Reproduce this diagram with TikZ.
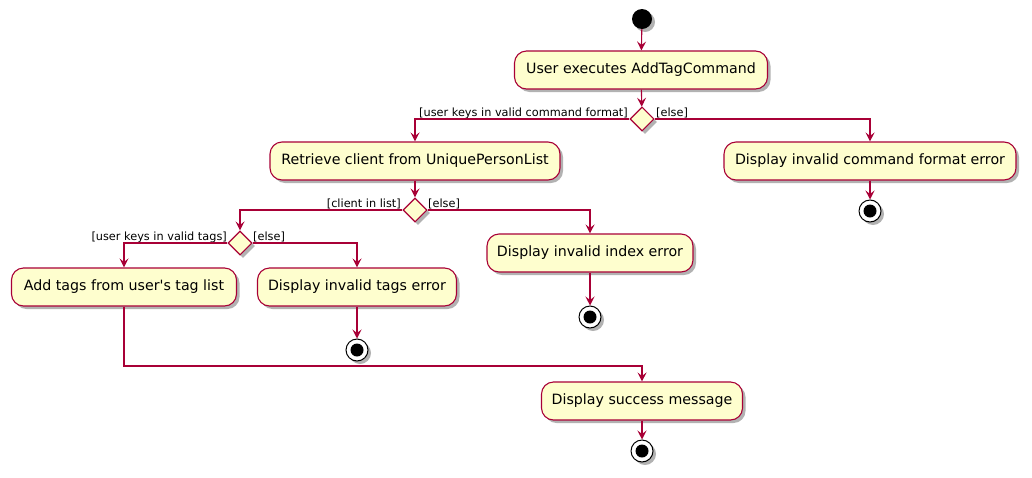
\documentclass[tikz,border=0pt]{standalone}
\usepackage{fontspec}
\setmainfont{DejaVu Sans}
\usetikzlibrary{arrows.meta,shapes.geometric,shadows}
\definecolor{umlred}{HTML}{A80036}
\definecolor{umlfill}{HTML}{FEFECE}
\tikzset{
  shade3/.style={drop shadow={shadow xshift=3pt,shadow yshift=-3pt,opacity=0.3,fill=black}},
  act/.style={draw=umlred,fill=umlfill,line width=1.1pt,rounded corners=12pt,
    minimum height=38pt,inner sep=0pt,font=\fontsize{14.2}{16}\selectfont,shade3},
  choice/.style={diamond,draw=umlred,fill=umlfill,line width=1.1pt,inner sep=0pt,
    minimum width=24pt,minimum height=24pt,shade3},
  startnode/.style={circle,fill=black,inner sep=0pt,minimum size=20pt,shade3},
  stopnode/.style={circle,draw=black,fill=white,line width=1pt,inner sep=0pt,minimum size=22pt,
    path picture={\fill[black] (path picture bounding box.center) circle (6.5pt);},shade3},
  flow/.style={draw=umlred,line width=1.1pt,-{Stealth[length=9pt,width=9pt,inset=3.5pt]}},
  guard/.style={font=\fontsize{11.3}{13}\selectfont,inner sep=0pt}
}
\begin{document}
\begin{tikzpicture}[x=1pt,y=-1pt]
\useasboundingbox (0,0) rectangle (1032,477);
\node[startnode] (start) at (642,19) {};
\node[act,minimum width=253pt] (exec) at (641,70) {User executes AddTagCommand};
\node[choice] (fmt) at (642,119) {};
\node[act,minimum width=290pt] (retrieve) at (415,161) {Retrieve client from UniquePersonList};
\node[act,minimum width=292pt] (fmterr) at (870,161) {Display invalid command format error};
\node[stopnode] (stopA) at (870,211) {};
\node[choice] (inlist) at (415,210) {};
\node[act,minimum width=206pt] (idxerr) at (590,253) {Display invalid index error};
\node[stopnode] (stopB) at (590,317) {};
\node[choice] (valid) at (240,243) {};
\node[act,minimum width=225pt] (addtags) at (124,287) {Add tags from user\textquotesingle s tag list};
\node[act,minimum width=199pt] (tagerr) at (357,287) {Display invalid tags error};
\node[stopnode] (stopC) at (357,350) {};
\node[act,minimum width=201pt] (success) at (642,401) {Display success message};
\node[stopnode] (stopD) at (642,451) {};
\coordinate (merge) at (642,366);

\node[guard,anchor=base east] at (628,116) {[user keys in valid command format]};
\node[guard,anchor=base west] at (656,116) {[else]};
\node[guard,anchor=base east] at (401,207) {[client in list]};
\node[guard,anchor=base west] at (428,207) {[else]};
\node[guard,anchor=base east] at (227,240) {[user keys in valid tags]};
\node[guard,anchor=base west] at (253,240) {[else]};

\draw[flow] (start) -- (exec);
\draw[flow] (exec) -- (fmt);
\draw[flow] (fmt.west) -| (retrieve.north);
\draw[flow] (fmt.east) -| (fmterr.north);
\draw[flow] (fmterr) -- (stopA);
\draw[flow] (retrieve) -- (inlist);
\draw[flow] (inlist.west) -| (valid.north);
\draw[flow] (inlist.east) -| (idxerr.north);
\draw[flow] (idxerr) -- (stopB);
\draw[flow] (valid.west) -| (addtags.north);
\draw[flow] (valid.east) -| (tagerr.north);
\draw[flow] (tagerr) -- (stopC);
\draw[flow] (addtags.south) |- (merge) -- (success.north);
\draw[flow] (success) -- (stopD);
\end{tikzpicture}
\end{document}
